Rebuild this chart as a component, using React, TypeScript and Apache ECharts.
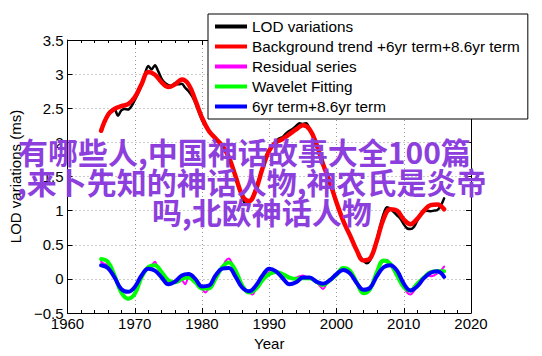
import React, { useEffect, useRef } from "react";
import * as echarts from "echarts";

// ---- Data ----
const annualYears = [
  1965, 1966, 1967, 1968, 1969, 1970, 1971, 1972, 1973, 1974, 1975, 1976, 1977,
  1978, 1979, 1980, 1981, 1982, 1983, 1984, 1985, 1986, 1987, 1988, 1989, 1990,
  1991, 1992, 1993, 1994, 1995, 1996, 1997, 1998, 1999, 2000, 2001, 2002, 2003,
  2004, 2005, 2006, 2007, 2008, 2009, 2010, 2011, 2012, 2013, 2014, 2015, 2016,
];

const halfYears = [
  1965, 1965.5, 1966, 1966.5, 1967, 1967.5, 1968, 1968.5, 1969, 1969.5, 1970,
  1970.5, 1971, 1971.5, 1972, 1972.5, 1973, 1973.5, 1974, 1974.5, 1975, 1975.5,
  1976, 1976.5, 1977, 1977.5, 1978, 1978.5, 1979, 1979.5, 1980, 1980.5, 1981,
  1981.5, 1982, 1982.5, 1983, 1983.5, 1984, 1984.5, 1985, 1985.5, 1986, 1986.5,
  1987, 1987.5, 1988, 1988.5, 1989, 1989.5, 1990, 1990.5, 1991, 1991.5, 1992,
  1992.5, 1993, 1993.5, 1994, 1994.5, 1995, 1995.5, 1996, 1996.5, 1997, 1997.5,
  1998, 1998.5, 1999, 1999.5, 2000, 2000.5, 2001, 2001.5, 2002, 2002.5, 2003,
  2003.5, 2004, 2004.5, 2005, 2005.5, 2006, 2006.5, 2007, 2007.5, 2008, 2008.5,
  2009, 2009.5, 2010, 2010.5, 2011, 2011.5, 2012, 2012.5, 2013, 2013.5, 2014,
  2014.5, 2015, 2015.5, 2016,
];

// LOD variations (black), half-year samples
const lodValues = [
  2.2, 2.3, 2.41, 2.47, 2.48, 2.39, 2.47, 2.49, 2.48, 2.53, 2.62,
  2.72, 2.84, 3.0, 3.12, 3.07, 3.13, 3.04, 2.93, 2.87, 2.84, 2.83,
  2.87, 2.85, 2.86, 2.8, 2.75, 2.68, 2.58, 2.45, 2.33, 2.24, 2.16,
  2.1, 2.06, 2.02, 1.97, 1.9, 1.8, 1.65, 1.48, 1.32, 1.18, 1.1,
  1.12, 1.2, 1.33, 1.48, 1.64, 1.79, 1.9, 1.97, 2.02, 2.06, 2.08,
  2.13, 2.17, 2.2, 2.24, 2.28, 2.27, 2.28, 2.2, 2.08, 1.95, 1.8,
  1.66, 1.54, 1.4, 1.25, 1.1, 0.97, 0.85, 0.74, 0.64, 0.53, 0.42,
  0.33, 0.27, 0.23, 0.27, 0.4, 0.58, 0.78, 0.95, 1.05, 1.03, 0.98,
  0.93, 0.88, 0.8, 0.74, 0.73, 0.76, 0.85, 0.93, 0.99, 1.0, 0.99,
  1.0, 1.01, 1.07, 1.18,
];

// Background trend + 6yr term + 8.6yr term (red), annual samples
const trendValues = [
  2.17, 2.4, 2.49, 2.53, 2.56, 2.66, 2.85, 3.03, 2.99, 2.88, 2.81, 2.85, 2.92,
  2.85, 2.62, 2.36, 2.17, 2.06, 1.95, 1.78, 1.5, 1.22, 1.14, 1.3, 1.62, 1.88,
  2.0, 2.05, 2.12, 2.19, 2.25, 2.19, 1.98, 1.68, 1.42, 1.12, 0.85, 0.64, 0.42,
  0.27, 0.3, 0.56, 0.88, 1.02, 1.0, 0.87, 0.8, 0.88, 1.0, 1.08, 1.09, 1.02,
];

// Residual series (magenta), half-year samples
const residualValues = [
  0.25, 0.22, 0.2, 0.12, 0.02, -0.1, -0.18, -0.26, -0.3, -0.28, -0.2,
  -0.1, 0.02, 0.12, 0.18, 0.2, 0.25, 0.15, 0.1, 0.04, -0.03, -0.06,
  -0.02, -0.05, -0.02, -0.08, 0.02, -0.01, -0.06, -0.1, -0.15, -0.2, -0.14,
  -0.08, 0.0, 0.08, 0.15, 0.26, 0.3, 0.22, 0.12, 0.0, -0.1, -0.18,
  -0.2, -0.23, -0.15, -0.08, -0.02, 0.05, 0.1, 0.08, 0.1, 0.08, 0.05,
  0.03, 0.02, 0.0, 0.02, 0.04, 0.05, 0.02, 0.0, -0.01, -0.05, -0.1,
  -0.15, -0.08, -0.04, 0.02, 0.06, 0.1, 0.13, 0.12, 0.08, 0.02, -0.05,
  -0.13, -0.18, -0.2, -0.14, -0.02, 0.1, 0.2, 0.26, 0.28, 0.22, 0.12,
  0.04, -0.04, -0.12, -0.2, -0.23, -0.18, -0.1, -0.05, 0.02, 0.05, 0.04,
  0.05, 0.08, 0.12, 0.18,
];

// Wavelet Fitting (green), annual samples
const waveletValues = [
  0.29, 0.25, 0.05, -0.2, -0.29, -0.22, 0.02, 0.17, 0.2, 0.1, -0.02, -0.05, 0.0,
  0.02, -0.05, -0.14, -0.14, 0.0, 0.17, 0.24, 0.12, -0.1, -0.2, -0.15, -0.02, 0.07,
  0.1, 0.07, 0.02, 0.0, 0.01, 0.01, -0.04, -0.09, -0.02, 0.06, 0.16, 0.12, -0.05,
  -0.21, -0.15, 0.1, 0.27, 0.22, 0.05, -0.12, -0.17, -0.07, 0.02, 0.1, 0.11, 0.11,
];

// 6yr term + 8.6yr term (blue), annual samples
const termValues = [
  0.2, 0.16, 0.02, -0.15, -0.19, -0.12, 0.05, 0.15, 0.12, 0.02, -0.08, -0.04, 0.05,
  0.07, 0.0, -0.11, -0.1, 0.05, 0.15, 0.16, 0.03, -0.13, -0.18, -0.1, 0.05, 0.15,
  0.11, 0.01, -0.08, -0.05, 0.02, 0.02, -0.04, -0.07, -0.02, 0.07, 0.13, 0.08, -0.06,
  -0.16, -0.13, 0.04, 0.17, 0.2, 0.12, -0.07, -0.17, -0.11, 0.01, 0.09, 0.11, 0.03,
];

const seriesNames = [
  "LOD variations",
  "Background trend +6yr term+8.6yr term",
  "Residual series",
  "Wavelet Fitting",
  "6yr term+8.6yr term",
];

const seriesColors = ["#000000", "#ff0000", "#ff00ff", "#00ff00", "#0000ff"];

const overlayLines = [
  "有哪些人,中国神话故事大全100篇",
  ",来卜先知的神话人物,神农氏是炎帝",
  "吗,北欧神话人物",
];

const FONT = '"Liberation Sans", Arial, Helvetica, sans-serif';

function pairs(xs: number[], ys: number[]) {
  return xs.map((x, i) => [x, ys[i]]);
}

export default function App() {
  const ref = useRef<HTMLDivElement>(null);

  useEffect(() => {
    if (!ref.current) return;
    const chart = echarts.init(ref.current, null, { renderer: "svg" });

    const fmt = (v: number) => String(v).replace("-", "\u2212");

    const baseX = {
      type: "value" as const,
      min: 1960,
      max: 2020,
      interval: 10,
    };
    const baseY = {
      type: "value" as const,
      min: -0.5,
      max: 3.5,
      interval: 0.5,
    };

    const mkLine = (i: number, xs: number[], ys: number[], width: number, smooth: number) => ({
      name: seriesNames[i],
      type: "line",
      data: pairs(xs, ys),
      showSymbol: false,
      symbol: "none",
      smooth,
      lineStyle: { color: seriesColors[i], width, cap: "round", join: "round" },
      itemStyle: { color: seriesColors[i], opacity: 0 },
      emphasis: { disabled: true },
      z: 2 + i,
    });

    const overlayText = (i: number, x: number, y: number) => ({
      type: "text",
      x,
      y,
      z: 100,
      style: {
        text: overlayLines[i],
        fill: "#8c3fdd",
        fontSize: 30,
        fontWeight: "bold",
        fontFamily: '"Noto Sans CJK SC", sans-serif',
        align: "left",
        verticalAlign: "middle",
      },
    });

    chart.setOption({
      animation: false,
      backgroundColor: "#ffffff",
      grid: { left: 55, right: 71, top: 40, bottom: 43, containLabel: false },
      xAxis: [
        {
          ...baseX,
          position: "bottom",
          name: "Year",
          nameLocation: "middle",
          nameGap: 21,
          nameTextStyle: { fontFamily: FONT, fontSize: 15, color: "#000" },
          axisLine: { show: true, onZero: false, lineStyle: { color: "#000", width: 1 } },
          axisTick: { show: true, inside: true, length: 5, lineStyle: { color: "#000" } },
          minorTick: { show: true, splitNumber: 5, length: 3, lineStyle: { color: "#000" } },
          axisLabel: { fontFamily: FONT, fontSize: 15, color: "#000", margin: 3, formatter: fmt },
          splitLine: { show: true, lineStyle: { color: "#999", type: [1, 3], width: 1 } },
        },
        {
          ...baseX,
          position: "top",
          axisLine: { show: true, onZero: false, lineStyle: { color: "#000", width: 1 } },
          axisTick: { show: true, inside: true, length: 5, lineStyle: { color: "#000" } },
          minorTick: { show: true, splitNumber: 5, length: 3, lineStyle: { color: "#000" } },
          axisLabel: { show: false },
          splitLine: { show: false },
        },
      ],
      yAxis: [
        {
          ...baseY,
          position: "left",
          name: "LOD variations (ms)",
          nameLocation: "middle",
          nameGap: 27,
          nameRotate: 90,
          nameTextStyle: { fontFamily: FONT, fontSize: 15, color: "#000" },
          axisLine: { show: true, onZero: false, lineStyle: { color: "#000", width: 1 } },
          axisTick: { show: true, inside: true, length: 5, lineStyle: { color: "#000" } },
          axisLabel: { fontFamily: FONT, fontSize: 15, color: "#000", margin: 4, formatter: fmt },
          splitLine: { show: true, lineStyle: { color: "#999", type: [1, 3], width: 1 } },
        },
        {
          ...baseY,
          position: "right",
          axisLine: { show: true, onZero: false, lineStyle: { color: "#000", width: 1 } },
          axisTick: { show: true, inside: true, length: 5, lineStyle: { color: "#000" } },
          axisLabel: { show: false },
          splitLine: { show: false },
        },
      ],
      legend: {
        show: true,
        orient: "vertical",
        left: 208,
        top: 14,
        backgroundColor: "#ffffff",
        borderColor: "#000",
        borderWidth: 1,
        borderRadius: 0,
        padding: [5, 8, 5, 7],
        icon: "rect",
        itemWidth: 32,
        itemHeight: 4,
        itemGap: 5,
        textStyle: { fontFamily: FONT, fontSize: 15.3, color: "#000", lineHeight: 15 },
        data: seriesNames.map((n, i) => ({
          name: n,
          itemStyle: { color: seriesColors[i], borderWidth: 0, opacity: 1 },
        })),
      },
      series: [
        mkLine(0, halfYears, lodValues, 2.5, 0.3),
        mkLine(1, annualYears, trendValues, 4.5, 0.4),
        mkLine(2, halfYears, residualValues, 2, 0.3),
        mkLine(3, annualYears, waveletValues, 4, 0.4),
        mkLine(4, annualYears, termValues, 4, 0.4),
      ],
      graphic: [
        overlayText(0, 18, 151),
        overlayText(1, 17, 181),
        overlayText(2, 152, 211),
      ],
    });

    return () => chart.dispose();
  }, []);

  return (
    <div
      ref={ref}
      style={{ position: "absolute", left: 0, top: 0, width: 542, height: 356 }}
    />
  );
}
